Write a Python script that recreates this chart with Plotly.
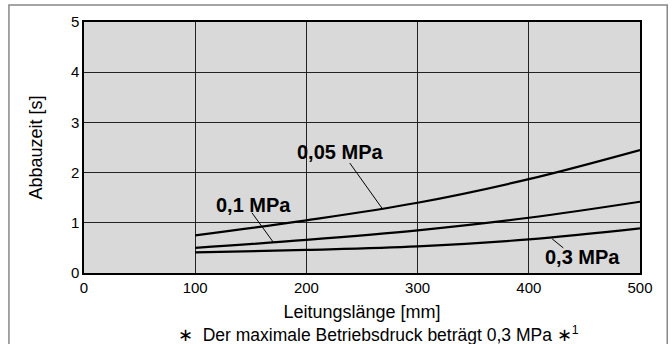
import plotly.graph_objects as go

# Leitungslänge [mm] und Abbauzeit [s] je Druck
laenge = [100, 200, 300, 400, 500]
zeit_005 = [0.75, 1.05, 1.40, 1.87, 2.45]
zeit_01 = [0.50, 0.66, 0.85, 1.10, 1.42]
zeit_03 = [0.41, 0.46, 0.53, 0.67, 0.89]

# Beschriftungen: Text, Textposition, Linie (von -> bis)
labels = [
    ("0,05 MPa", 230, 2.41, 239, 2.19, 268, 1.29),
    ("0,1 MPa", 152, 1.35, 151, 1.20, 170, 0.62),
    ("0,3 MPa", 448, 0.32, 421, 0.68, 431, 0.50),
]

fig = go.Figure()
for y in [zeit_005, zeit_01, zeit_03]:
    fig.add_trace(go.Scatter(x=laenge, y=y, mode="lines",
                             line=dict(color="black", width=2.2, shape="spline"),
                             showlegend=False, hoverinfo="skip"))

for text, tx, ty, x0, y0, x1, y1 in labels:
    fig.add_annotation(x=tx, y=ty, text="<b>" + text + "</b>", showarrow=False,
                       font=dict(size=20, color="black"))
    fig.add_shape(type="line", x0=x0, y0=y0, x1=x1, y1=y1,
                  line=dict(color="black", width=1))

# Rahmen um die ganze Grafik
fig.add_shape(type="rect", xref="paper", yref="paper", x0=-0.135, x1=1.049,
              y0=-0.33, y1=1.068, line=dict(color="#888888", width=1.5), layer="below")

fig.add_annotation(xref="paper", yref="paper", x=0.53, y=-0.245, yanchor="middle",
                   text="∗  Der maximale Betriebsdruck beträgt 0,3 MPa ∗<sup>1</sup>",
                   showarrow=False, font=dict(size=17.5, color="black"))

fig.update_layout(
    width=672, height=344,
    margin=dict(l=84, r=32, t=22, b=71),
    paper_bgcolor="white", plot_bgcolor="#d9d9d9",
    font=dict(family="Liberation Sans, Arial, sans-serif", color="black", size=15),
    xaxis=dict(range=[0, 500], dtick=100, showgrid=True, gridcolor="#222222", gridwidth=1,
               showline=True, linecolor="black", linewidth=1.5, mirror=True, zeroline=False,
               ticks="", title=dict(text="Leitungslänge [mm]", standoff=11, font=dict(size=18))),
    yaxis=dict(range=[0, 5], dtick=1, showgrid=True, gridcolor="#222222", gridwidth=1,
               showline=True, linecolor="black", linewidth=1.5, mirror=True, zeroline=False,
               ticks="", title=dict(text="Abbauzeit [s]", standoff=24, font=dict(size=18))),
)

fig.write_html("out.html", config={"displayModeBar": False},
               post_script="document.body.style.margin='0';")
